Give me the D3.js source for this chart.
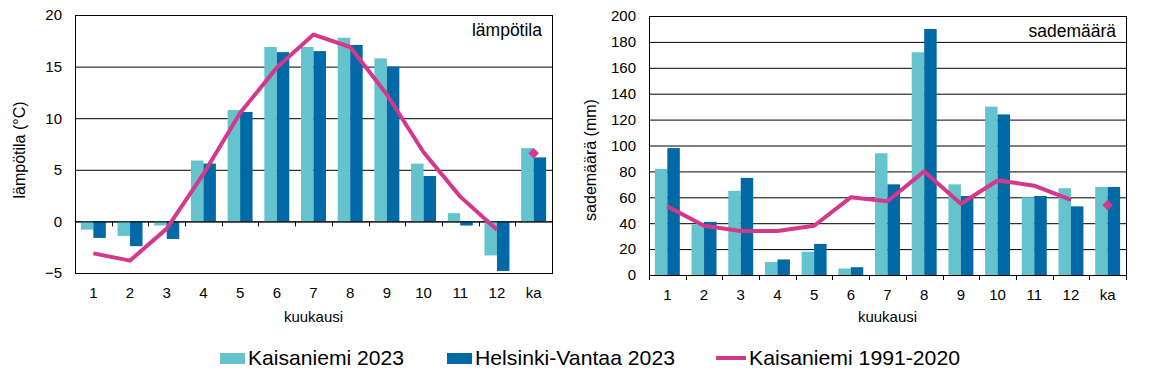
<!DOCTYPE html>
<html>
<head>
<meta charset="utf-8">
<script src="https://cdn.jsdelivr.net/npm/d3@7"></script>
<style>
  body { margin: 0; background: #fff; }
  svg { display: block; font-family: "Liberation Sans", Arial, sans-serif; }
</style>
</head>
<body>
<div id="chart-container"></div>
<script>
// Data
const months = ["1", "2", "3", "4", "5", "6", "7", "8", "9", "10", "11", "12", "ka"];
const seriesNames = ["Kaisaniemi 2023", "Helsinki-Vantaa 2023", "Kaisaniemi 1991-2020"];

const tempKaisaniemi = [-0.8, -1.4, -0.4, 5.9, 10.8, 16.9, 16.9, 17.8, 15.8, 5.6, 0.8, -3.3, 7.1];
const tempVantaa = [-1.6, -2.4, -1.7, 5.6, 10.6, 16.4, 16.5, 17.1, 15.0, 4.4, -0.4, -4.8, 6.2];
const tempNormal = [-3.1, -3.8, -0.7, 4.6, 10.5, 14.9, 18.1, 16.9, 12.3, 6.7, 2.4, -0.8];
const tempNormalYear = 6.6;
const tempTicks = [-5, 0, 5, 10, 15, 20];

const precKaisaniemi = [82, 39, 65, 10, 18, 5, 94, 172, 70, 130, 60, 67, 68];
const precVantaa = [98, 41, 75, 12, 24, 6, 70, 190, 61, 124, 61, 53, 68];
const precNormal = [53, 38, 34, 34, 38, 60, 57, 80, 55, 73, 69, 58];
const precNormalYear = 54;
const precTicks = [0, 20, 40, 60, 80, 100, 120, 140, 160, 180, 200];

const colLight = "#65c3cd";
const colDark = "#0069a6";
const colLine = "#d5388b";

const svg = d3.select("#chart-container")
  .append("svg")
  .attr("width", 1152)
  .attr("height", 388);

// one panel (bars + normal line + ka marker)
const drawPanel = (cfg) => {
  const g = svg.append("g");

  const x = d3.scaleBand()
    .domain(months)
    .range([cfg.left, cfg.right]);

  const x1 = d3.scaleBand()
    .domain([0, 1])
    .range([0, x.bandwidth()])
    .paddingOuter(0.47);

  const y = d3.scaleLinear()
    .domain([cfg.ticks[0], cfg.ticks[cfg.ticks.length - 1]])
    .range([cfg.bottom, cfg.top]);

  // gridlines
  g.selectAll("line.grid")
    .data(cfg.ticks)
    .join("line")
    .attr("class", "grid")
    .attr("x1", cfg.left).attr("x2", cfg.right)
    .attr("y1", d => y(d) + 0.5).attr("y2", d => y(d) + 0.5)
    .attr("stroke", "#000")
    .attr("stroke-width", 1);

  // bars
  const rows = months.map((m, i) => ({ m, vals: [cfg.a[i], cfg.b[i]] }));
  const grp = g.selectAll("g.month")
    .data(rows)
    .join("g")
    .attr("transform", d => `translate(${x(d.m)},0)`);

  grp.selectAll("rect")
    .data(d => d.vals.map((v, k) => ({ v, k })))
    .join("rect")
    .attr("x", d => x1(d.k))
    .attr("width", x1.bandwidth())
    .attr("y", d => y(Math.max(0, d.v)))
    .attr("height", d => Math.abs(y(d.v) - y(0)))
    .attr("fill", d => d.k === 0 ? colLight : colDark);

  // zero line redrawn over bars + tick marks
  g.append("line")
    .attr("x1", cfg.left).attr("x2", cfg.right)
    .attr("y1", y(0) + 0.5).attr("y2", y(0) + 0.5)
    .attr("stroke", "#000");

  const bounds = months.map(m => x(m)).concat([cfg.right]);
  g.selectAll("line.tick")
    .data(bounds)
    .join("line")
    .attr("class", "tick")
    .attr("x1", d => Math.round(d) + 0.5).attr("x2", d => Math.round(d) + 0.5)
    .attr("y1", y(0)).attr("y2", y(0) + 5)
    .attr("stroke", "#000");

  // frame
  g.append("rect")
    .attr("x", cfg.left + 0.5).attr("y", cfg.top + 0.5)
    .attr("width", cfg.right - cfg.left).attr("height", cfg.bottom - cfg.top)
    .attr("fill", "none")
    .attr("stroke", "#000");

  // normal line
  const line = d3.line()
    .x((d, i) => x(months[i]) + x.bandwidth() / 2)
    .y(d => y(d));

  g.append("path")
    .datum(cfg.normal)
    .attr("d", line)
    .attr("fill", "none")
    .attr("stroke", colLine)
    .attr("stroke-width", 4)
    .attr("stroke-linejoin", "round");

  // annual normal diamond
  g.append("path")
    .attr("d", d3.symbol(d3.symbolDiamond2, 72)())
    .attr("transform", `translate(${x("ka") + x.bandwidth() / 2},${y(cfg.normalYear)})`)
    .attr("fill", colLine);

  // axes labels
  const yAxis = d3.axisLeft(y).tickValues(cfg.ticks).tickSize(0).tickPadding(13);
  g.append("g")
    .attr("transform", `translate(${cfg.left},0)`)
    .call(yAxis)
    .call(a => a.select(".domain").remove())
    .selectAll("text")
    .style("font-size", "15px")
    .style("font-family", "Liberation Sans, Arial, sans-serif")
    .attr("fill", "#000");

  const xAxis = d3.axisBottom(x).tickSize(0).tickPadding(14);
  g.append("g")
    .attr("transform", `translate(0,${cfg.bottom})`)
    .call(xAxis)
    .call(a => a.select(".domain").remove())
    .selectAll("text")
    .style("font-size", "15px")
    .style("font-family", "Liberation Sans, Arial, sans-serif")
    .attr("fill", "#000");

  // titles
  g.append("text")
    .text("kuukausi")
    .attr("x", (cfg.left + cfg.right) / 2)
    .attr("y", 322)
    .attr("text-anchor", "middle")
    .style("font-size", "15px");

  g.append("text")
    .text(cfg.yTitle)
    .attr("transform", `translate(${cfg.yTitleX},${cfg.yTitleY}) rotate(-90)`)
    .attr("text-anchor", "middle")
    .attr("dominant-baseline", "central")
    .style("font-size", "16px");

  g.append("text")
    .text(cfg.label)
    .attr("x", cfg.right - 10)
    .attr("y", cfg.top + 21)
    .attr("text-anchor", "end")
    .style("font-size", "17.5px");
};

drawPanel({
  left: 75, right: 552, top: 15, bottom: 273,
  ticks: tempTicks, a: tempKaisaniemi, b: tempVantaa,
  normal: tempNormal, normalYear: tempNormalYear,
  yTitle: "lämpötila (°C)", yTitleX: 19, yTitleY: 150, label: "lämpötila"
});

drawPanel({
  left: 649, right: 1126, top: 16, bottom: 275,
  ticks: precTicks, a: precKaisaniemi, b: precVantaa,
  normal: precNormal, normalYear: precNormalYear,
  yTitle: "sademäärä (mm)", yTitleX: 590, yTitleY: 160, label: "sademäärä"
});

// legend
const legendItems = [
  { name: seriesNames[0], type: "rect", color: colLight, x: 220, w: 156 },
  { name: seriesNames[1], type: "rect", color: colDark, x: 447, w: 200 },
  { name: seriesNames[2], type: "line", color: colLine, x: 716, w: 211 }
];

const leg = svg.append("g")
  .selectAll("g")
  .data(legendItems)
  .join("g")
  .attr("transform", d => `translate(${d.x},0)`);

leg.filter(d => d.type === "rect")
  .append("rect")
  .attr("x", 0).attr("y", 353)
  .attr("width", 25).attr("height", 11)
  .attr("fill", d => d.color);

leg.filter(d => d.type === "line")
  .append("line")
  .attr("x1", 0).attr("x2", 30)
  .attr("y1", 358).attr("y2", 358)
  .attr("stroke", d => d.color)
  .attr("stroke-width", 4);

leg.append("text")
  .text(d => d.name)
  .attr("x", d => d.type === "line" ? 33 : 28)
  .attr("y", 365)
  .attr("textLength", d => d.w)
  .attr("lengthAdjust", "spacingAndGlyphs")
  .style("font-size", "21px");
</script>
</body>
</html>
